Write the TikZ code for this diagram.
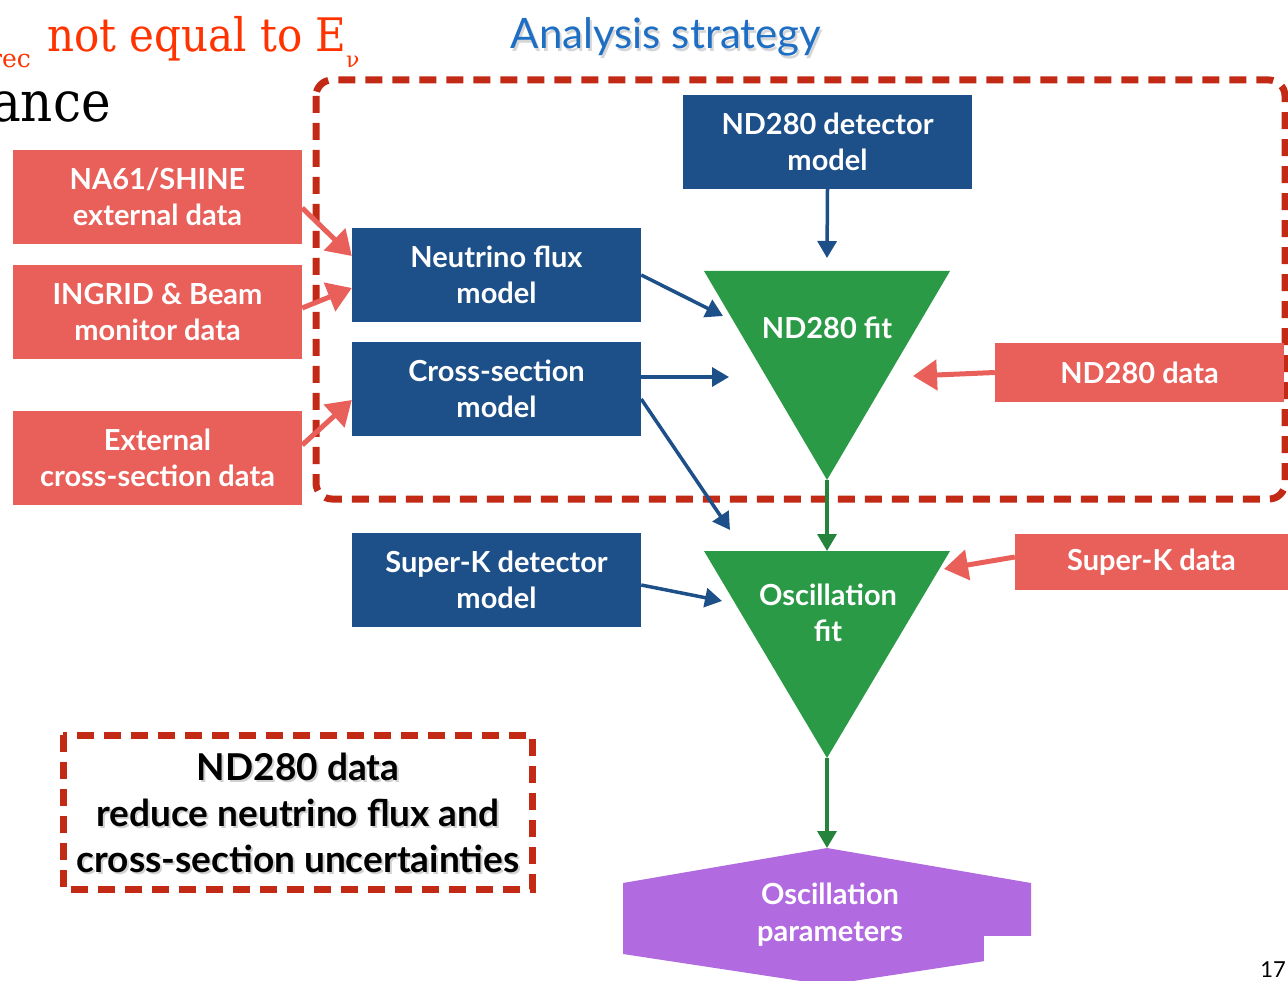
\documentclass[tikz,border=0pt]{standalone}
\usepackage{fontspec}
\setmainfont{Lato}
\newfontfamily\serifface{DejaVu Serif}
\usetikzlibrary{arrows.meta}

\definecolor{boxblue}{RGB}{29,79,137}
\definecolor{boxred}{RGB}{233,96,90}
\definecolor{fitgreen}{RGB}{43,154,71}
\definecolor{parpurple}{RGB}{177,106,224}
\definecolor{dashred}{RGB}{194,42,22}
\definecolor{titleblue}{RGB}{30,110,196}
\definecolor{notered}{RGB}{255,51,0}

\begin{document}
\begin{tikzpicture}[x=1pt,y=-1pt,
  model/.style={rectangle, fill=boxblue, text=white, minimum width=289pt,
    minimum height=94pt, align=center, inner sep=0pt,
    font=\bfseries\fontsize{29}{36}\selectfont},
  datain/.style={model, fill=boxred},
  fitlabel/.style={text=white, align=center, inner sep=0pt,
    font=\bfseries\fontsize{29}{36}\selectfont},
  redarrow/.style={draw=boxred, line width=5pt,
    -{Triangle[length=24pt,width=30pt]}},
  bluearrow/.style={draw=boxblue, line width=3.5pt,
    -{Triangle[length=17pt,width=19pt]}},
  greenarrow/.style={draw=fitgreen!85!black, line width=3.5pt,
    -{Triangle[length=17pt,width=19pt]}},
  dashbox/.style={draw=dashred, line width=7pt, dash pattern=on 17pt off 10pt},
  notebox/.style={align=center, inner sep=0pt,
    font=\bfseries\fontsize{37}{46}\selectfont}
]
\useasboundingbox (0,0) rectangle (1288,981);
\clip (0,0) rectangle (1288,981);

% leftover slide text at the top left
\node[anchor=base east, text=notered, inner sep=0pt,
  font=\serifface\fontsize{25}{25}\selectfont] (rec) at (31,68) {rec};
\node[anchor=base west, text=notered, inner sep=0pt,
  font=\serifface\fontsize{42}{42}\selectfont, yscale=1.1] (noteq) at (47,52) {not equal to E};
\node[anchor=base west, text=notered, inner sep=0pt,
  font=\serifface\fontsize{22}{22}\selectfont] (nu) at (346,68) {ν};
\node[anchor=base east, text=black, inner sep=0pt,
  font=\serifface\fontsize{50}{50}\selectfont, yscale=1.12] (ance) at (111,122) {ance};

% title with soft shadow
\node[text=black!40, opacity=0.4, inner sep=0pt, font=\fontsize{42}{42}\selectfont]
  at (668,40) {Analysis strategy};
\node[text=titleblue, inner sep=0pt, font=\fontsize{42}{42}\selectfont]
  (title) at (666,37) {Analysis strategy};

% near detector region
\draw[dashbox, rounded corners=16pt] (316,80) rectangle (1285,499);

% model boxes
\node[model] (nd280det) at (827.5,142) {ND280 detector\\model};
\node[model] (flux) at (496.5,275) {Neutrino flux\\model};
\node[model] (xsec) at (496.5,389) {Cross-section\\model};
\node[model] (skdet) at (496.5,580) {Super-K detector\\model};

% external input boxes
\node[datain] (na61) at (157.5,197) {NA61/SHINE\\external data};
\node[datain] (ingrid) at (157.5,312) {INGRID \& Beam\\monitor data};
\node[datain] (extxs) at (157.5,458) {External\\cross-section data};
\node[datain, minimum height=59pt] (nd280data) at (1139.5,372.5) {ND280 data};
\node[datain, minimum width=273pt, minimum height=56pt] (skdata) at (1151.5,562) {Super-K data};

% fit stages
\fill[fitgreen] (704,271) -- (950,271) -- (827,480) -- cycle;
\fill[fitgreen] (704,551) -- (950,551) -- (827,758) -- cycle;
\coordinate (fitapex) at (827,480);
\coordinate (oscapex) at (827,758);
\coordinate (fittop) at (827,258);
\coordinate (fitin1) at (723,316);
\coordinate (fitin2) at (729,377);
\coordinate (fitright) at (913,376);
\coordinate (osctop) at (827,551);
\coordinate (oscin1) at (730,530);
\coordinate (oscin2) at (722,601);
\coordinate (oscright) at (944,569);
\node[fitlabel] (fitname) at (827,328) {ND280 fit};
\node[fitlabel] (oscname) at (828,613) {Oscillation\\fit};

% result
\fill[parpurple] (827,848) -- (1031,883) -- (1031,954) -- (827,985)
  -- (623,954) -- (623,883) -- cycle;
\fill[white] (984,936) rectangle (1040,990);
\coordinate (partop) at (827,848);
\node[fitlabel, font=\bfseries\fontsize{29}{37}\selectfont] (params) at (830,915) {Oscillation\\parameters};

% connectors
\draw[redarrow] ([yshift=-11pt]na61.east) -- ([yshift=19pt]flux.west);
\draw[redarrow] ([yshift=4pt]ingrid.east) -- ([yshift=-13pt]flux.west);
\draw[redarrow] ([yshift=13pt]extxs.east) -- ([yshift=-11pt]xsec.west);
\draw[redarrow] (nd280data.west) -- (fitright);
\draw[redarrow] ([yshift=5pt]skdata.west) -- (oscright);

\draw[bluearrow] (nd280det.south) -- (fittop);
\draw[bluearrow] (flux.east) -- (fitin1);
\draw[bluearrow] ([yshift=12pt]xsec.east) -- (fitin2);
\draw[bluearrow] ([yshift=-10pt]xsec.east) -- (oscin1);
\draw[bluearrow] ([yshift=-5pt]skdet.east) -- (oscin2);

\draw[greenarrow] (fitapex) -- (osctop);
\draw[greenarrow] (oscapex) -- (partop);

% summary note
\draw[dashbox] (63,735) rectangle (532,889);
\node[notebox, text=black!45, opacity=0.4] at (300,815)
  {ND280 data\\reduce neutrino flux and\\cross-section uncertainties};
\node[notebox] (note) at (298,813)
  {ND280 data\\reduce neutrino flux and\\cross-section uncertainties};

% page number
\node[anchor=base east, inner sep=0pt, font=\fontsize{22}{22}\selectfont] (page) at (1286,977) {17};
\end{tikzpicture}
\end{document}
